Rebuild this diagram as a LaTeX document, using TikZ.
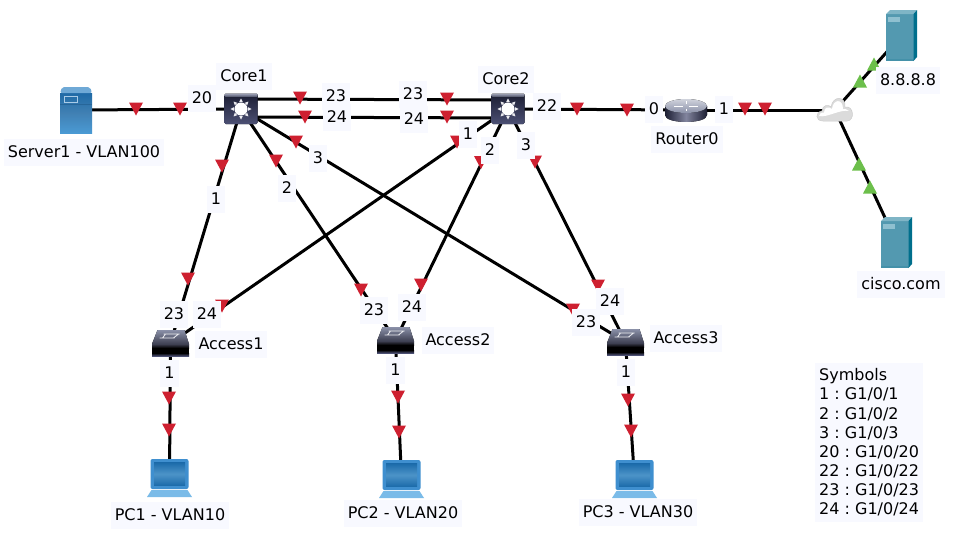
\documentclass[tikz,border=0pt]{standalone}
\usepackage{fontspec}
\setmainfont{DejaVu Sans}
\definecolor{labbg}{HTML}{F8F9FF}
\definecolor{trired}{HTML}{CE2030}
\definecolor{trigreen}{HTML}{6CBF4B}
\definecolor{bsA}{HTML}{6FA9D6}
\definecolor{bsB}{HTML}{1F6AA6}
\definecolor{bsC}{HTML}{4A9AD4}
\definecolor{tsF}{HTML}{5399B0}
\definecolor{tsT}{HTML}{7FB5C6}
\definecolor{tsS}{HTML}{006F8C}
\definecolor{tsP}{HTML}{8FC0D0}
\definecolor{swT}{HTML}{8A90A8}
\definecolor{swD}{HTML}{1C1E33}
\definecolor{swL}{HTML}{4C5074}
\definecolor{lpE}{HTML}{3F8FCF}
\definecolor{lpD}{HTML}{1C6BAA}
\definecolor{lpM}{HTML}{4C93C8}
\definecolor{lpB}{HTML}{7ABBE8}
\tikzset{
  every node/.style={font=\fontsize{16}{19.1}\selectfont\frenchspacing},
  link/.style={draw=black,line width=3pt},
  lab/.style={fill=labbg,inner xsep=4pt,inner ysep=6.5pt,text height=12pt,text depth=2pt},
  iconbox/.style n args={2}{inner sep=0pt,minimum width=#1,minimum height=#2},
}
\newcommand{\redtri}[2]{\fill[trired] ({#1-7},{#2-6.5}) -- ({#1+7},{#2-6.5}) -- (#1,{#2+6.5}) -- cycle;}
\newcommand{\greentri}[2]{\fill[trigreen] ({#1-7},{#2+6.5}) -- ({#1+7},{#2+6.5}) -- (#1,{#2-6.5}) -- cycle;}
\newcommand{\lab}[4]{\node[lab] (#1) at (#2,{#3+0.8}) {#4};}
\newcommand{\blueserver}[2]{\begin{scope}[shift={(#1,#2)}]
  \fill[top color=bsB,bottom color=bsC,middle color=bsB!85!white] (-16,-17) rectangle (16,23);
  \fill[bsA,rounded corners=2pt] (-16,-17) -- (-14,-23) -- (14,-23) -- (16,-17) -- cycle;
  \fill[bsB!70!black,opacity=.35] (-16,-6) rectangle (16,-5);
  \draw[bsA!60!white,line width=1pt] (-12,-14) rectangle (1,-8);
\end{scope}}
\newcommand{\tealserver}[2]{\begin{scope}[shift={(#1,#2)}]
  \fill[tsF] (-15.5,-21.5) rectangle (12,25.5);
  \fill[tsT] (-15.5,-21.5) -- (-11.5,-25.5) -- (15.5,-25.5) -- (12,-21.5) -- cycle;
  \fill[tsS] (12,-21.5) -- (15.5,-25.5) -- (15.5,21.5) -- (12,25.5) -- cycle;
  \fill[tsP] (-13.5,-18.5) rectangle (-1.5,-14);
  \fill[tsS,opacity=.18] (-15.5,23) rectangle (12,25.5);
\end{scope}}
\newcommand{\coreswitch}[2]{\begin{scope}[shift={(#1,#2)}]
  \fill[top color=swD,bottom color=swL,rounded corners=1.5pt] (-16.5,-15) rectangle (16.5,15);
  \fill[top color=swT!80!white,bottom color=swT!40!swD,rounded corners=1pt] (-16.5,-15.5) rectangle (16.5,-12);
  \foreach \a in {0,45,...,315}{\fill[white!90!swL,rotate=\a] (7,-1.8) -- (10.5,0) -- (7,1.8) -- cycle;}
  \fill[white] (0,0) circle (6.5);
\end{scope}}
\newcommand{\accessswitch}[2]{\begin{scope}[shift={(#1,#2)}]
  \fill[top color=swT,bottom color=swD!85!white] (-13,-13) -- (14,-13) -- (18.5,1) -- (-18.5,1) -- cycle;
  \draw[white!85!swT,line width=.8pt] (-11,-5) -- (4,-5) (-7,-9) -- (9,-9) (-5,-9) -- (-8,-5) (8,-9) -- (3,-5);
  \fill[top color=swD!85!white,bottom color=black] (-18.5,1) rectangle (18.5,5);
  \fill[black] (-18.5,5) rectangle (18.5,11);
  \fill[top color=black,bottom color=swL] (-18.5,10) rectangle (18.5,13);
\end{scope}}
\newcommand{\laptop}[2]{\begin{scope}[shift={(#1,#2)}]
  \fill[lpE,rounded corners=2pt] (-19,-19) rectangle (19,11);
  \fill[top color=lpD,bottom color=lpD,middle color=lpM] (-15.5,-15.5) rectangle (15.5,7.5);
  \fill[lpB] (-18,12) -- (18,12) -- (22.5,19) -- (-22.5,19) -- cycle;
\end{scope}}
\newcommand{\routericon}[2]{\begin{scope}[shift={(#1,#2)}]
  \fill[left color=swD,right color=swD,middle color=swL!70!white] (-21,-4) -- (-21,5) .. controls (-21,14.3) and (21,14.3) .. (21,5) -- (21,-4) -- cycle;
  \fill[top color=swT!40!white,bottom color=swT] (0,-4) ellipse (21 and 7);
  \draw[white,line width=1pt] (-12,-4) -- (-3,-4) (3,-4) -- (12,-4) (0,-9) -- (0,-6.5) (0,-1.5) -- (0,1);
\end{scope}}
\newcommand{\cloudicon}[2]{\begin{scope}[shift={(#1,#2)}]
  \fill[white!86!black,draw=white!80!black,line width=.5pt] (-12,11) .. controls (-20,11) and (-20,2) .. (-13,1) .. controls (-13,-5) and (-6,-6) .. (-4,-3) .. controls (-2,-15) and (11,-14) .. (10,-3) .. controls (19,-5) and (20,11) .. (12,11) -- cycle;
  \fill[white] (-16,6) .. controls (-16,3) and (-13,2) .. (-11,2.5) .. controls (-11,-3) and (-6,-4) .. (-3,-1) .. controls (-2,-11) and (8,-12) .. (8,-1) .. controls (10,-1) and (12,-1) .. (14,1) .. controls (5,-1) and (-8,8) .. (-16,6) -- cycle;
\end{scope}}
\begin{document}
\begin{tikzpicture}[x=1pt,y=-1pt]
\useasboundingbox (0,0) rectangle (954,541);
\fill[white] (0,0) rectangle (954,541);
% device anchor nodes
\node[iconbox={32pt}{46pt}] (server1) at (76,110) {};
\node[iconbox={33pt}{31pt}] (core1) at (241,109) {};
\node[iconbox={33pt}{30pt}] (core2) at (508,109) {};
\node[iconbox={42pt}{23pt}] (router0) at (686,110) {};
\node[iconbox={36pt}{23pt}] (cloud) at (835,110) {};
\node[iconbox={31pt}{51pt}] (dns) at (901.5,35.5) {};
\node[iconbox={31pt}{51pt}] (cisco) at (896.5,242.5) {};
\node[iconbox={37pt}{26pt}] (access1) at (170.5,343) {};
\node[iconbox={37pt}{26pt}] (access2) at (395.5,340) {};
\node[iconbox={37pt}{26pt}] (access3) at (625.5,342) {};
\node[iconbox={45pt}{38pt}] (pc1) at (169.5,478) {};
\node[iconbox={45pt}{38pt}] (pc2) at (401.5,479) {};
\node[iconbox={45pt}{38pt}] (pc3) at (634.5,479) {};
% connectors
\draw[link] (server1.center) -- (core1.center);
\draw[link] ([yshift=10pt]core1.center) -- ([yshift=9pt]core2.center);
\draw[link] ([yshift=-8pt]core1.center) -- ([yshift=-9pt]core2.center);
\draw[link] (core1.center) -- (access1.center);
\draw[link] (core1.center) -- (access2.center);
\draw[link] (core1.center) -- (access3.center);
\draw[link] (core2.center) -- (access1.center);
\draw[link] (core2.center) -- (access2.center);
\draw[link] (core2.center) -- (access3.center);
\draw[link] (core2.center) -- (router0.center);
\draw[link] (router0.center) -- (cloud.center);
\draw[link] (cloud.center) -- (dns.center);
\draw[link] (cloud.center) -- (cisco.center);
\draw[link] (access1.center) -- (pc1.center);
\draw[link] (access2.center) -- (pc2.center);
\draw[link] (access3.center) -- (pc3.center);
% link state markers
\redtri{136}{109}\redtri{180}{109}
\redtri{300}{98}\redtri{447}{99}\redtri{305}{117}\redtri{447}{117}
\redtri{222}{166}\redtri{188}{279}
\redtri{276}{161}\redtri{361}{290}
\redtri{296}{142}\redtri{573}{310}
\redtri{457}{142}\redtri{222}{306}
\redtri{481}{162.5}\redtri{421}{285}
\redtri{535}{162}\redtri{598}{286}
\redtri{577}{109}\redtri{627}{110}
\redtri{745}{109}\redtri{765}{109}
\redtri{169}{398}\redtri{169}{430}
\redtri{398}{397}\redtri{399}{432}
\redtri{628}{400}\redtri{631}{431}
\greentri{860}{81}\greentri{874}{64}
\greentri{859}{164}\greentri{870}{187}
% icons
\blueserver{76}{110}
\coreswitch{241}{109}
\coreswitch{508}{109}
\routericon{686}{110}
\cloudicon{835}{110}
\tealserver{901.5}{35.5}
\tealserver{896.5}{242.5}
\accessswitch{170.5}{343}
\accessswitch{395.5}{340}
\accessswitch{625.5}{342}
\laptop{169.5}{478}
\laptop{401.5}{479}
\laptop{634.5}{479}
% device labels
\lab{lcore1}{244}{76}{Core1}
\lab{lcore2}{506}{79}{Core2}
\lab{lrouter}{687}{139}{Router0}
\lab{ldns}{908}{80}{8.8.8.8}
\lab{lcisco}{901}{284}{cisco.com}
\lab{lserver}{84}{152}{Server1 - VLAN100}
\lab{lacc1}{231}{344}{Access1}
\lab{lacc2}{458}{340}{Access2}
\lab{lacc3}{686}{338}{Access3}
\lab{lpc1}{170}{515}{PC1 - VLAN10}
\lab{lpc2}{403}{513}{PC2 - VLAN20}
\lab{lpc3}{638}{512}{PC3 - VLAN30}
% port labels
\lab{p20}{202}{98}{20}
\lab{p23a}{336}{96}{23}
\lab{p23b}{413}{94}{23}
\lab{p24a}{337}{117}{24}
\lab{p24b}{414}{119}{24}
\lab{p22}{547}{106}{22}
\lab{p0}{654}{109}{0}
\lab{p1r}{724}{109}{1}
\lab{c1p1}{216}{199}{1}
\lab{c1p2}{287}{188}{2}
\lab{c1p3}{318}{158}{3}
\lab{c2p3}{526}{145}{3}
\lab{c2p1}{468}{134}{1}
\lab{c2p2}{490}{150}{2}
\lab{a1p23}{174}{314}{23}
\lab{a1p24}{207}{314}{24}
\lab{a2p23}{374}{310}{23}
\lab{a2p24}{412}{307}{24}
\lab{a3p23}{586}{322}{23}
\lab{a3p24}{610}{301}{24}
\lab{a1p1}{169.5}{373}{1}
\lab{a2p1}{395.5}{370}{1}
\lab{a3p1}{626}{372}{1}
% legend
\node[fill=labbg,inner xsep=4pt,inner ysep=5.5pt,align=left,anchor=north west] (legend) at (815,363) {Symbols\\1 : G1/0/1\\2 : G1/0/2\\3 : G1/0/3\\20 : G1/0/20\\22 : G1/0/22\\23 : G1/0/23\\24 : G1/0/24};
\end{tikzpicture}
\end{document}
